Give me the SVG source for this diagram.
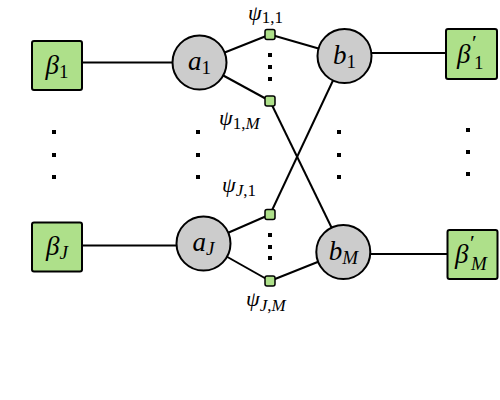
<svg xmlns="http://www.w3.org/2000/svg" width="500" height="400" viewBox="0 0 500 400">
<style>
.box{fill:#aee08a;stroke:#000;stroke-width:2;}
.circ{fill:#cccccc;stroke:#000;stroke-width:2;}
.sq{fill:#aee08a;stroke:#000;stroke-width:1.5;}
.edge{stroke:#000;stroke-width:2;fill:none;}
.dot{fill:#000;}
.m{font-family:"Liberation Serif","DejaVu Serif",serif;font-style:italic;font-size:27px;fill:#000;}
.ml{font-family:"Liberation Serif","DejaVu Serif",serif;font-style:italic;font-size:22px;fill:#000;}
.sub{font-size:19px;}
.pr{font-size:22px;}
.sl{font-size:17px;}
.up{font-style:normal;}
</style>
<rect width="500" height="400" fill="#fff"/>
<g id="connectors">
<line class="edge" x1="82" y1="62.5" x2="173" y2="62.5"/>
<line class="edge" x1="82" y1="245.5" x2="177" y2="245.5"/>
<line class="edge" x1="371" y1="53" x2="446" y2="53"/>
<line class="edge" x1="370" y1="254" x2="448" y2="254"/>
<line class="edge" x1="199.5" y1="62.5" x2="270" y2="34.5"/>
<line class="edge" x1="199.5" y1="62.5" x2="270" y2="101"/>
<line class="edge" x1="270" y1="34.5" x2="344.5" y2="56"/>
<line class="edge" x1="270" y1="101" x2="343.3" y2="251.7"/>
<line class="edge" x1="270" y1="214.5" x2="344.5" y2="56"/>
<line class="edge" x1="203.5" y1="243.5" x2="270" y2="214.5"/>
<line class="edge" x1="203.5" y1="243.5" x2="270" y2="281"/>
<line class="edge" x1="270" y1="281" x2="343.3" y2="251.7"/>
</g>
<g id="beta1">
<rect class="box" x="32" y="41" width="50" height="49" rx="2"/>
<text class="m" x="57" y="74" text-anchor="middle">β<tspan class="sub up" dy="4">1</tspan></text>
</g>
<g id="betaJ">
<rect class="box" x="32" y="222.5" width="50" height="49" rx="2"/>
<text class="m" x="57" y="255" text-anchor="middle">β<tspan class="sub" dy="4">J</tspan></text>
</g>
<g id="a1">
<circle class="circ" cx="199.5" cy="62.5" r="27"/>
<text class="m" x="199.5" y="70" text-anchor="middle">a<tspan class="sub up" dy="4">1</tspan></text>
</g>
<g id="aJ">
<circle class="circ" cx="203.5" cy="243.5" r="27"/>
<text class="m" x="203.5" y="251" text-anchor="middle">a<tspan class="sub" dy="4">J</tspan></text>
</g>
<g id="b1">
<circle class="circ" cx="344.5" cy="56" r="27"/>
<text class="m" x="344.5" y="64" text-anchor="middle">b<tspan class="sub up" dy="4">1</tspan></text>
</g>
<g id="bM">
<circle class="circ" cx="343.3" cy="252" r="27"/>
<text class="m" x="343.3" y="260" text-anchor="middle">b<tspan class="sub" dy="4">M</tspan></text>
</g>
<g id="betap1">
<rect class="box" x="446" y="29" width="51" height="50" rx="2"/>
<text class="m" x="457" y="63">β<tspan x="472" y="50" class="pr up">′</tspan><tspan x="474" y="69" class="sub up">1</tspan></text>
</g>
<g id="betapM">
<rect class="box" x="447.5" y="230" width="50" height="49" rx="2"/>
<text class="m" x="455" y="263">β<tspan x="470" y="250" class="pr up">′</tspan><tspan x="471" y="270" class="sub">M</tspan></text>
</g>
<g id="psi11">
<rect class="sq" x="265" y="29.5" width="10" height="10" rx="2"/>
<text class="ml" x="248" y="20">ψ<tspan class="sl up" dy="3">1,1</tspan></text>
</g>
<g id="psi1M">
<rect class="sq" x="265" y="96" width="10" height="10" rx="2"/>
<text class="ml" x="219" y="125">ψ<tspan class="sl" dy="4"><tspan class="up">1,</tspan>M</tspan></text>
</g>
<g id="psiJ1">
<rect class="sq" x="265" y="209.5" width="10" height="10" rx="2"/>
<text class="ml" x="222" y="192">ψ<tspan class="sl" dy="4">J<tspan class="up">,1</tspan></tspan></text>
</g>
<g id="psiJM">
<rect class="sq" x="265" y="276" width="10" height="10" rx="2"/>
<text class="ml" x="246" y="306">ψ<tspan class="sl" dy="5">J<tspan class="up">,</tspan>M</tspan></text>
</g>
<g id="dots">
<rect class="dot" x="52" y="130" width="4" height="4"/>
<rect class="dot" x="52" y="153" width="4" height="4"/>
<rect class="dot" x="52" y="175" width="4" height="4"/>
<rect class="dot" x="196" y="130" width="4" height="4"/>
<rect class="dot" x="196" y="153" width="4" height="4"/>
<rect class="dot" x="196" y="175" width="4" height="4"/>
<rect class="dot" x="337" y="130" width="4" height="4"/>
<rect class="dot" x="337" y="153" width="4" height="4"/>
<rect class="dot" x="337" y="175" width="4" height="4"/>
<rect class="dot" x="466" y="128" width="4" height="4"/>
<rect class="dot" x="466" y="150" width="4" height="4"/>
<rect class="dot" x="466" y="172" width="4" height="4"/>
<rect class="dot" x="268" y="53" width="4" height="4"/>
<rect class="dot" x="268" y="65" width="4" height="4"/>
<rect class="dot" x="268" y="77" width="4" height="4"/>
<rect class="dot" x="268" y="233" width="4" height="4"/>
<rect class="dot" x="268" y="245" width="4" height="4"/>
<rect class="dot" x="268" y="256" width="4" height="4"/>
</g>
</svg>
